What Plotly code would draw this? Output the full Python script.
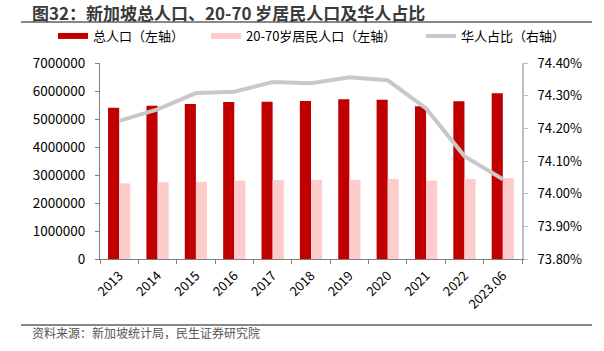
import plotly.graph_objects as go

categories = ["2013", "2014", "2015", "2016", "2017", "2018", "2019", "2020", "2021", "2022", "2023.06"]
total_pop = [5399000, 5470000, 5535000, 5607000, 5612000, 5639000, 5704000, 5686000, 5454000, 5637000, 5918000]
pop_20_70 = [2700000, 2740000, 2760000, 2800000, 2820000, 2830000, 2830000, 2860000, 2800000, 2860000, 2890000]
chinese_share = [74.223, 74.258, 74.308, 74.312, 74.342, 74.338, 74.356, 74.347, 74.261, 74.115, 74.044]

left_ticks = [0, 1000000, 2000000, 3000000, 4000000, 5000000, 6000000, 7000000]
right_ticks = [73.8, 73.9, 74.0, 74.1, 74.2, 74.3, 74.4]

RED = "#C00000"
PINK = "#FFCCCC"
GREY = "#C8C8C8"
FONT = "Noto Sans CJK SC"

fig = go.Figure()
fig.add_trace(go.Bar(x=categories, y=total_pop, marker_color=RED, marker_line_width=0,
                     showlegend=False, yaxis="y"))
fig.add_trace(go.Bar(x=categories, y=pop_20_70, marker_color=PINK, marker_line_width=0,
                     showlegend=False, yaxis="y"))
fig.add_trace(go.Scatter(x=categories, y=chinese_share, mode="lines",
                         line=dict(color=GREY, width=4), showlegend=False, yaxis="y2"))

# legend entries
legend_items = [("总人口（左轴）", RED, 6, "legend"),
                ("20-70岁居民人口（左轴）", PINK, 6, "legend2"),
                ("华人占比（右轴）", GREY, 4, "legend3")]
for name, col, w, lg in legend_items:
    fig.add_trace(go.Scatter(x=[None], y=[None], mode="lines", name=name,
                             line=dict(color=col, width=w), legend=lg, showlegend=True))

leg_common = dict(orientation="h", yanchor="middle", xref="container", yref="container",
                  font=dict(family=FONT, size=13, color="#000000"), bgcolor="rgba(0,0,0,0)",
                  itemwidth=30, tracegroupgap=0)
ly = 1 - 36 / 351
fig.update_layout(
    legend=dict(**leg_common, x=53 / 604, xanchor="left", y=ly),
    legend2=dict(**leg_common, x=206 / 604, xanchor="left", y=ly),
    legend3=dict(**leg_common, x=421 / 604, xanchor="left", y=ly),
)

fig.update_layout(
    width=604, height=351,
    margin=dict(l=100, r=82, t=63, b=92, autoexpand=False),
    paper_bgcolor="white", plot_bgcolor="white",
    barmode="group", bargap=0.42, bargroupgap=0.0,
    font=dict(family=FONT, size=13, color="#000000"),
    xaxis=dict(type="category", showgrid=False, showline=True, linecolor="#808080", linewidth=1,
               ticks="outside", ticklen=4, tickcolor="#808080", tickson="boundaries",
               tickangle=-45, ticklabelstandoff=3, tickfont=dict(size=13, family=FONT)),
    yaxis=dict(range=[0, 7000000], tickvals=left_ticks, ticktext=[str(v) for v in left_ticks],
               showgrid=False, zeroline=False, showline=True, linecolor="#808080", linewidth=1,
               ticks="outside", ticklen=4, tickcolor="#808080", ticklabelstandoff=7,
               tickfont=dict(size=13.5, family=FONT)),
    yaxis2=dict(range=[73.8, 74.4], tickvals=right_ticks,
                ticktext=[f"{v:.2f}%" for v in right_ticks], overlaying="y", side="right",
                showgrid=False, zeroline=False, showline=True, linecolor="#BFBFBF", linewidth=2,
                ticks="outside", ticklen=4, tickcolor="#BFBFBF", ticklabelstandoff=7,
                tickfont=dict(size=13, family=FONT)),
)

fig.add_annotation(text="<b>图32：新加坡总人口、20-70 岁居民人口及华人占比</b>", xref="paper", yref="paper",
                   x=-(100 - 30) / 422, y=1 + (63 - 12) / 196, xanchor="left", yanchor="middle",
                   showarrow=False, font=dict(family=FONT, size=17, color="#3A3A3A"))
fig.add_annotation(text="资料来源：新加坡统计局，民生证券研究院", xref="paper", yref="paper",
                   x=-(100 - 30) / 422, y=-(332 - 259) / 196, xanchor="left", yanchor="middle",
                   showarrow=False, font=dict(family=FONT, size=12, color="#555555"))
fig.add_shape(type="line", xref="paper", yref="paper", x0=-(100 - 21) / 422, x1=(592 - 100) / 422,
              y0=1 + (63 - 22) / 196, y1=1 + (63 - 22) / 196, line=dict(color="#606060", width=1.5))
fig.add_shape(type="line", xref="paper", yref="paper", x0=-(100 - 21) / 422, x1=(592 - 100) / 422,
              y0=-(325 - 259) / 196, y1=-(325 - 259) / 196, line=dict(color="#606060", width=1.5))

fig.write_html("out.html")
